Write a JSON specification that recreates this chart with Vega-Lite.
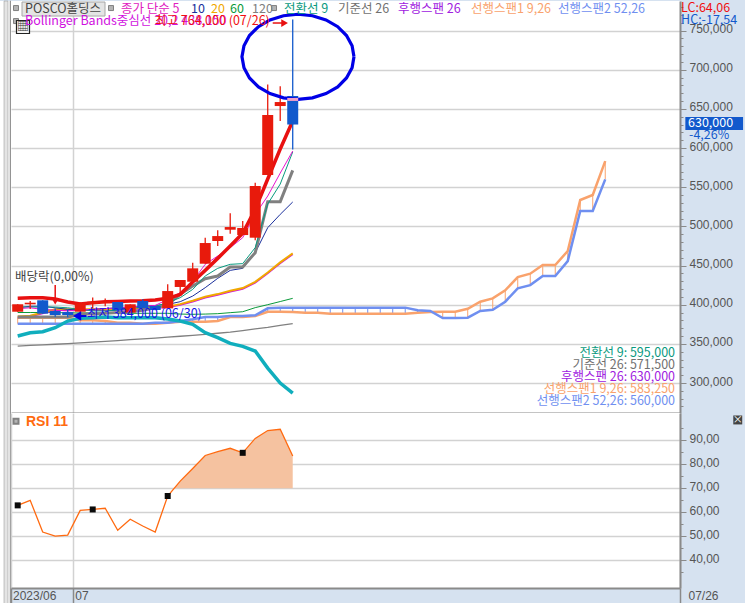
{"$schema":"https://vega.github.io/schema/vega-lite/v6.json","background":"#d6e2f0","padding":0,"spacing":0,"bounds":"flush","config":{"font":"Noto Sans CJK KR","concat":{"spacing":0},"text":{"font":"Noto Sans CJK KR","fontSize":12}},
"datasets":{
"daily":[
{"i":0,"date":"06/26","open":391,"high":400.5,"low":391,"close":400.5,"ma5":394.9,"ma10":396,"ma20":384.8,"ma60":390,"ma120":347.2,"conv":397,"base":384.3,"upper":408.1,"mid":383.6,"lower":360,"rsi":62.9},
{"i":1,"date":"06/27","open":400.5,"high":404.7,"low":394.4,"close":402.5,"ma5":396,"ma10":398,"ma20":386,"ma60":390,"ma120":348,"conv":397,"base":384.3,"upper":408.9,"mid":384.8,"lower":364.2,"rsi":65},
{"i":2,"date":"06/28","open":405.6,"high":405.6,"low":388.5,"close":388.5,"ma5":394,"ma10":398,"ma20":390,"ma60":390,"ma120":348.7,"conv":397,"base":384.3,"upper":408.9,"mid":388.8,"lower":365.5,"rsi":51.8},
{"i":3,"date":"06/29","open":391.9,"high":395,"low":384.5,"close":386.8,"ma5":393,"ma10":396,"ma20":394,"ma60":390,"ma120":349.5,"conv":397,"base":384.3,"upper":407.2,"mid":392.8,"lower":370.6,"rsi":50.1},
{"i":4,"date":"06/30","open":390.6,"high":394,"low":384,"close":386.8,"ma5":392,"ma10":394,"ma20":394,"ma60":389.5,"ma120":350.4,"conv":396,"base":384.3,"upper":403.4,"mid":392.8,"lower":379.1,"rsi":50.5},
{"i":5,"date":"07/03","open":391,"high":403,"low":391,"close":402,"ma5":393,"ma10":393,"ma20":394,"ma60":389.5,"ma120":351.2,"conv":394,"base":388,"upper":400.9,"mid":392.8,"lower":382.6,"rsi":60.8},
{"i":6,"date":"07/04","open":401.2,"high":409,"low":395.3,"close":403.8,"ma5":394,"ma10":394,"ma20":394,"ma60":389.5,"ma120":352.2,"conv":392,"base":388,"upper":402.6,"mid":392.8,"lower":383.4,"rsi":61.2},
{"i":7,"date":"07/05","open":402,"high":408,"low":398,"close":404,"ma5":395,"ma10":395,"ma20":394,"ma60":389,"ma120":353.2,"conv":392,"base":389,"upper":403.8,"mid":392.8,"lower":384.3,"rsi":61.7},
{"i":8,"date":"07/06","open":403.4,"high":403.4,"low":392.8,"close":392.8,"ma5":396,"ma10":396,"ma20":394.5,"ma60":389,"ma120":354.2,"conv":393,"base":390,"upper":404.2,"mid":393.3,"lower":383.4,"rsi":52.5},
{"i":9,"date":"07/07","open":390,"high":400.5,"low":390,"close":400.5,"ma5":397,"ma10":397,"ma20":395,"ma60":389,"ma120":355.3,"conv":395,"base":391,"upper":404.7,"mid":393.8,"lower":383.4,"rsi":57.1},
{"i":10,"date":"07/10","open":404.7,"high":407,"low":395.3,"close":395.3,"ma5":398,"ma10":398,"ma20":396.2,"ma60":389,"ma120":356.3,"conv":397,"base":393,"upper":405.1,"mid":395,"lower":383.4,"rsi":54.3},
{"i":11,"date":"07/11","open":398.3,"high":398.3,"low":393,"close":393.2,"ma5":399,"ma10":399,"ma20":397,"ma60":389,"ma120":357.3,"conv":398,"base":396,"upper":406,"mid":395.8,"lower":383.4,"rsi":51.8},
{"i":12,"date":"07/12","open":395.3,"high":426,"low":395.3,"close":417.4,"ma5":406.8,"ma10":400.4,"ma20":397.5,"ma60":389,"ma120":358.5,"conv":402.6,"base":400.4,"upper":408.1,"mid":396.3,"lower":381.7,"rsi":66.8},
{"i":13,"date":"07/13","open":422.6,"high":431.5,"low":415.3,"close":431.5,"ma5":415.3,"ma10":403.8,"ma20":400.7,"ma60":388,"ma120":359.7,"conv":408.9,"base":413.2,"upper":413.2,"mid":399.5,"lower":379.1,"rsi":73},
{"i":14,"date":"07/14","open":429.3,"high":453.6,"low":429.3,"close":446.4,"ma5":430.2,"ma10":411,"ma20":405,"ma60":387.7,"ma120":360.9,"conv":419.5,"base":423.8,"upper":428.9,"mid":403.8,"lower":374.9,"rsi":78.3},
{"i":15,"date":"07/17","open":452.3,"high":485.5,"low":452.3,"close":478.7,"ma5":451.5,"ma10":421.7,"ma20":410,"ma60":388,"ma120":362,"conv":436.6,"base":433.2,"upper":443.8,"mid":408.8,"lower":364.2,"rsi":83.7},
{"i":16,"date":"07/18","open":481.3,"high":494.9,"low":474.9,"close":487.6,"ma5":462.1,"ma10":433.6,"ma20":413.5,"ma60":388.5,"ma120":363.5,"conv":446.4,"base":436.6,"upper":459.1,"mid":412.3,"lower":357.9,"rsi":85.3},
{"i":17,"date":"07/19","open":495.7,"high":516.6,"low":490.6,"close":499.1,"ma5":472.8,"ma10":443.8,"ma20":417.7,"ma60":389.8,"ma120":365,"conv":451.5,"base":448.1,"upper":474.9,"mid":416.5,"lower":350.6,"rsi":86.7},
{"i":18,"date":"07/20","open":488.9,"high":506.8,"low":488.9,"close":497.9,"ma5":485.5,"ma10":446.4,"ma20":421.2,"ma60":391,"ma120":367,"conv":452.4,"base":448.1,"upper":491.1,"mid":420,"lower":346.8,"rsi":84.8},
{"i":19,"date":"07/21","open":485.5,"high":555.7,"low":482.2,"close":551.5,"ma5":515.3,"ma10":466.4,"ma20":429.2,"ma60":396.2,"ma120":369,"conv":472.8,"base":466.4,"upper":521.7,"mid":428,"lower":340.8,"rsi":90.8},
{"i":20,"date":"07/24","open":565.5,"high":681,"low":565.5,"close":642,"ma5":538.7,"ma10":498.3,"ma20":441,"ma60":400,"ma120":371,"conv":528.5,"base":531.5,"upper":560.4,"mid":439.8,"lower":319,"rsi":94.1},
{"i":21,"date":"07/25","open":653.6,"high":679,"low":634.5,"close":658.7,"ma5":568,"ma10":515.3,"ma20":454,"ma60":404,"ma120":373.5,"conv":554,"base":531.5,"upper":598.7,"mid":452.8,"lower":300,"rsi":94.6},
{"i":22,"date":"07/26","open":666.4,"high":764,"low":598,"close":630,"ma5":596.2,"ma10":531.1,"ma20":465.5,"ma60":408.1,"ma120":375.7,"conv":595,"base":571.5,"upper":634.5,"mid":464.3,"lower":287.2,"rsi":83.5}
],
"cloud":[
{"i":0,"span1":383.4,"span2":375.7},{"i":1,"span1":383.4,"span2":375.7},{"i":2,"span1":383.4,"span2":375.7},{"i":3,"span1":383.4,"span2":375.7},{"i":4,"span1":383.4,"span2":375.7},{"i":5,"span1":380,"span2":375.7},{"i":6,"span1":380,"span2":375.7},{"i":7,"span1":379.1,"span2":375.7},{"i":8,"span1":377,"span2":375.7},{"i":9,"span1":377,"span2":375.7},{"i":10,"span1":375.7,"span2":375.7},{"i":11,"span1":375.7,"span2":377},{"i":12,"span1":377,"span2":377},{"i":13,"span1":378.3,"span2":379.1},{"i":14,"span1":378.3,"span2":381.3},{"i":15,"span1":378.3,"span2":384.3},{"i":16,"span1":379.1,"span2":384.3},{"i":17,"span1":384.3,"span2":385.5},{"i":18,"span1":384.3,"span2":385.5},{"i":19,"span1":385.5,"span2":386.4},{"i":20,"span1":391,"span2":395.3},{"i":21,"span1":391,"span2":396.2},{"i":22,"span1":390.6,"span2":396.2},{"i":23,"span1":389.8,"span2":396.2},{"i":24,"span1":389.8,"span2":396.2},{"i":25,"span1":388.5,"span2":396.2},{"i":26,"span1":388.5,"span2":396.2},{"i":27,"span1":388.5,"span2":396.2},{"i":28,"span1":388.5,"span2":396.2},{"i":29,"span1":388.5,"span2":396.2},{"i":30,"span1":388.5,"span2":396.2},{"i":31,"span1":388.5,"span2":396.2},{"i":32,"span1":389.8,"span2":392.8},{"i":33,"span1":390.6,"span2":391.9},{"i":34,"span1":391,"span2":383},{"i":35,"span1":391,"span2":383},{"i":36,"span1":394.8,"span2":383.4},{"i":37,"span1":403.8,"span2":391.9},{"i":38,"span1":408,"span2":393.4},{"i":39,"span1":418.3,"span2":403.8},{"i":40,"span1":435.3,"span2":420.9},{"i":41,"span1":439.6,"span2":425},{"i":42,"span1":450.6,"span2":436.6},{"i":43,"span1":450.6,"span2":436.6},{"i":44,"span1":468.5,"span2":455.7},{"i":45,"span1":533.6,"span2":519.6},{"i":46,"span1":540,"span2":519.6},{"i":47,"span1":583.25,"span2":560}
],
"ring":[
{"k":0,"i":26.9,"price":716.5},{"k":1,"i":26.75,"price":730.5},{"k":2,"i":26.3,"price":743.6},{"k":3,"i":25.6,"price":754.9},{"k":4,"i":24.66,"price":763.5},{"k":5,"i":23.58,"price":768.9},{"k":6,"i":22.42,"price":770.8},{"k":7,"i":21.26,"price":768.9},{"k":8,"i":20.18,"price":763.5},{"k":9,"i":19.26,"price":754.9},{"k":10,"i":18.54,"price":743.6},{"k":11,"i":18.1,"price":730.5},{"k":12,"i":17.94,"price":716.5},{"k":13,"i":18.1,"price":702.5},{"k":14,"i":18.54,"price":689.4},{"k":15,"i":19.26,"price":678.1},{"k":16,"i":20.18,"price":669.5},{"k":17,"i":21.26,"price":664.1},{"k":18,"i":22.42,"price":662.2},{"k":19,"i":23.58,"price":664.1},{"k":20,"i":24.66,"price":669.5},{"k":21,"i":25.6,"price":678.1},{"k":22,"i":26.3,"price":689.4},{"k":23,"i":26.75,"price":702.5},{"k":24,"i":26.9,"price":716.5}
],
"textLeft":[
{"i":0.584,"price":785.35,"label":"POSCO홀딩스","series":"name"},
{"i":8.264,"price":785.35,"label":"종가 단순 5","series":"ma5"},
{"i":13.864,"price":785.35,"label":"10","series":"ma10"},
{"i":15.464,"price":785.35,"label":"20","series":"ma20"},
{"i":16.984,"price":785.35,"label":"60","series":"ma60"},
{"i":18.744,"price":785.35,"label":"120","series":"ma120"},
{"i":21.304,"price":785.35,"label":"전환선 9","series":"conv"},
{"i":25.624,"price":785.35,"label":"기준선 26","series":"base"},
{"i":30.424,"price":785.35,"label":"후행스팬 26","series":"lag"},
{"i":36.264,"price":785.35,"label":"선행스팬1 9,26","series":"span1"},
{"i":43.224,"price":785.35,"label":"선행스팬2 52,26","series":"span2"},
{"i":0.584,"price":769.95,"label":"Bollinger Bands중심선 20,2 438,150","series":"mid"},
{"i":10.984,"price":769.95,"label":"최고 764,000 (07/26)","series":"high"},
{"i":-0.216,"price":443.15,"label":"배당락(0,00%)","series":"name"},
{"i":5.544,"price":395.95,"label":"최저 384,000 (06/30)","series":"lowmark"},
{"i":53.064,"price":786.55,"label":"LC:64,06","series":"high"},
{"i":53.064,"price":771.25,"label":"HC:-17,54","series":"low"},
{"i":53.624,"price":639.15,"label":"630,000","series":"white"},
{"i":53.704,"price":623.85,"label":"-4,26%","series":"low"}
],
"textRight":[
{"i":52.584,"price":338.7,"label":"전환선 9: 595,000","series":"conv"},
{"i":52.584,"price":323,"label":"기준선 26: 571,500","series":"base"},
{"i":52.584,"price":307.6,"label":"후행스팬 26: 630,000","series":"lag"},
{"i":52.584,"price":292,"label":"선행스팬1 9,26: 583,250","series":"span1"},
{"i":52.584,"price":276.6,"label":"선행스팬2 52,26: 560,000","series":"span2"}
],
"icons":[{"i":-0.136,"price":778.7},{"i":7.464,"price":778.7},{"i":20.504,"price":778.7},{"i":-0.136,"price":762.1}],
"refs":[{"rsi":70},{"rsi":30}],
"zone":[{"i":12.55,"rsi":70},{"i":13,"rsi":73},{"i":14,"rsi":78.3},{"i":15,"rsi":83.7},{"i":16,"rsi":85.3},{"i":17,"rsi":86.7},{"i":18,"rsi":84.8},{"i":19,"rsi":90.8},{"i":20,"rsi":94.1},{"i":21,"rsi":94.6},{"i":22,"rsi":83.5}],
"signals":[{"i":0,"rsi":62.9},{"i":6,"rsi":61.2},{"i":12,"rsi":66.8},{"i":18,"rsi":84.8}]
},
"hconcat":[
{"width":11,"height":603,"view":{"fill":"white","stroke":null},
 "data":{"values":[{"a":4,"b":8,"part":"strip"},{"a":10,"b":11,"part":"edge"}]},
 "mark":{"type":"rect","stroke":"#8f8f8f","strokeWidth":0.5},
 "encoding":{"x":{"field":"a","type":"quantitative","scale":{"domain":[0,11],"nice":false},"axis":null},"x2":{"field":"b"},
  "color":{"condition":{"test":"datum.part==='strip'","value":"#e4e4e4"},"value":"#9a9a9a"}}},
{"vconcat":[
{"width":669,"height":412,"view":{"fill":"white","stroke":null},
 "encoding":{"x":{"field":"i","type":"quantitative","scale":{"domain":[-0.536,52.98],"nice":false,"zero":false,"padding":0},
   "axis":{"values":[4.45],"labels":false,"ticks":false,"domain":true,"domainColor":"#8a8a8a","domainWidth":2,"grid":true,"gridColor":"#d2d2d2","gridWidth":1.5,"title":null}}},
 "resolve":{"axis":{"y":"independent"}},
 "layer":[
 {"data":{"name":"cloud"},"mark":{"type":"rule","strokeWidth":1},
  "encoding":{"y":{"field":"span1","type":"quantitative","scale":{"domain":[261.7,787.7],"nice":false,"zero":false},
    "axis":{"orient":"right","values":[300,350,400,450,500,550,600,650,700,750],"grid":true,"gridColor":"#d2d2d2","gridWidth":1.5,"tickColor":"#8a8a8a","tickSize":6,"domainColor":"#8a8a8a","domainWidth":2,"labelColor":"#555555","labelFont":"Liberation Sans","labelFontSize":12,"labelPadding":3,"labelOffset":-2,"labelExpr":"format(datum.value*1000,',d')","title":null}},
   "y2":{"field":"span2"},"color":{"condition":{"test":"datum.span1>=datum.span2","value":"#f9a26c"},"value":"#6f8ff0"}}},
 {"data":{"name":"cloud"},"mark":{"type":"line","stroke":"#f9a26c","strokeWidth":2.5,"interpolate":"linear"},
  "encoding":{"y":{"field":"span1","type":"quantitative","scale":{"domain":[261.7,787.7],"nice":false,"zero":false},
    "axis":{"orient":"right","values":[270,280,290,310,320,330,340,360,370,380,390,410,420,430,440,460,470,480,490,510,520,530,540,560,570,580,590,610,620,630,640,660,670,680,690,710,720,730,740,760,770,780],"grid":false,"labels":false,"tickColor":"#8a8a8a","tickSize":3,"domain":false,"title":null}}}},
 {"data":{"name":"cloud"},"mark":{"type":"line","stroke":"#6f8ff0","strokeWidth":2.5},
  "encoding":{"y":{"field":"span2","type":"quantitative","scale":{"domain":[261.7,787.7],"nice":false,"zero":false},"axis":null}}},
 {"data":{"name":"daily"},"mark":{"type":"line","stroke":"#808080","strokeWidth":1.3},"encoding":{"y":{"field":"ma120","type":"quantitative","scale":{"domain":[261.7,787.7],"nice":false,"zero":false},"axis":null}}},
 {"data":{"name":"daily"},"mark":{"type":"line","stroke":"#0a9a3a","strokeWidth":1},"encoding":{"y":{"field":"ma60","type":"quantitative","scale":{"domain":[261.7,787.7],"nice":false,"zero":false},"axis":null}}},
 {"data":{"name":"daily"},"mark":{"type":"line","stroke":"#10aebd","strokeWidth":3.5},"encoding":{"y":{"field":"lower","type":"quantitative","scale":{"domain":[261.7,787.7],"nice":false,"zero":false},"axis":null}}},
 {"data":{"name":"daily"},"mark":{"type":"line","stroke":"#d010e0","strokeWidth":1.5},"encoding":{"y":{"field":"mid","type":"quantitative","scale":{"domain":[261.7,787.7],"nice":false,"zero":false},"axis":null}}},
 {"data":{"name":"daily"},"mark":{"type":"line","stroke":"#f0a800","strokeWidth":2},"encoding":{"y":{"field":"ma20","type":"quantitative","scale":{"domain":[261.7,787.7],"nice":false,"zero":false},"axis":null}}},
 {"data":{"name":"daily"},"mark":{"type":"line","stroke":"#1a2f9c","strokeWidth":1},"encoding":{"y":{"field":"ma10","type":"quantitative","scale":{"domain":[261.7,787.7],"nice":false,"zero":false},"axis":null}}},
 {"data":{"name":"daily"},"mark":{"type":"line","stroke":"#808080","strokeWidth":3},"encoding":{"y":{"field":"base","type":"quantitative","scale":{"domain":[261.7,787.7],"nice":false,"zero":false},"axis":null}}},
 {"data":{"name":"daily"},"mark":{"type":"line","stroke":"#0a9a80","strokeWidth":1},"encoding":{"y":{"field":"conv","type":"quantitative","scale":{"domain":[261.7,787.7],"nice":false,"zero":false},"axis":null}}},
 {"data":{"name":"daily"},"mark":{"type":"line","stroke":"#e815d0","strokeWidth":1},"encoding":{"y":{"field":"ma5","type":"quantitative","scale":{"domain":[261.7,787.7],"nice":false,"zero":false},"axis":null}}},
 {"data":{"name":"daily"},"mark":{"type":"line","stroke":"#e81010","strokeWidth":3.5},"encoding":{"y":{"field":"upper","type":"quantitative","scale":{"domain":[261.7,787.7],"nice":false,"zero":false},"axis":null}}},
 {"data":{"name":"daily"},"mark":{"type":"rule","strokeWidth":1.3},"encoding":{"y":{"field":"high","type":"quantitative","scale":{"domain":[261.7,787.7],"nice":false,"zero":false},"axis":null},"y2":{"field":"low"},"color":{"condition":{"test":"datum.close>=datum.open","value":"#e81a0c"},"value":"#1259cc"}}},
 {"data":{"name":"daily"},"mark":{"type":"bar","size":11},"encoding":{"y":{"field":"open","type":"quantitative","scale":{"domain":[261.7,787.7],"nice":false,"zero":false},"axis":null},"y2":{"field":"close"},"color":{"condition":{"test":"datum.close>=datum.open","value":"#e81a0c"},"value":"#1259cc"}}},
 {"data":{"values":[{"i":3,"from":425,"to":405}]},"mark":{"type":"rule","stroke":"#e81010","strokeWidth":1.5},"encoding":{"y":{"field":"from","type":"quantitative","scale":{"domain":[261.7,787.7],"nice":false,"zero":false},"axis":null},"y2":{"field":"to"}}},
 {"data":{"values":[{"i":3,"price":404}]},"mark":{"type":"point","shape":"triangle-down","filled":true,"size":50,"color":"#e81010","opacity":1},"encoding":{"y":{"field":"price","type":"quantitative","scale":{"domain":[261.7,787.7],"nice":false,"zero":false},"axis":null}}},
 {"data":{"values":[{"i":4.75,"i2":5.5,"price":385.5}]},"mark":{"type":"rule","stroke":"#0000e6","strokeWidth":2},"encoding":{"x2":{"field":"i2"},"y":{"field":"price","type":"quantitative","scale":{"domain":[261.7,787.7],"nice":false,"zero":false},"axis":null}}},
 {"data":{"values":[{"i":4.75,"price":385.5}]},"mark":{"type":"point","shape":"triangle-left","filled":true,"size":90,"color":"#0000e6","opacity":1},"encoding":{"y":{"field":"price","type":"quantitative","scale":{"domain":[261.7,787.7],"nice":false,"zero":false},"axis":null}}},
 {"data":{"values":[{"i":20.4,"i2":21.4,"price":759.6}]},"mark":{"type":"rule","stroke":"#e81010","strokeWidth":1.5},"encoding":{"x2":{"field":"i2"},"y":{"field":"price","type":"quantitative","scale":{"domain":[261.7,787.7],"nice":false,"zero":false},"axis":null}}},
 {"data":{"values":[{"i":21.35,"price":759.6}]},"mark":{"type":"point","shape":"triangle-right","filled":true,"size":60,"color":"#e81010","opacity":1},"encoding":{"y":{"field":"price","type":"quantitative","scale":{"domain":[261.7,787.7],"nice":false,"zero":false},"axis":null}}},
 {"data":{"name":"ring"},"mark":{"type":"line","stroke":"#0000e6","strokeWidth":3.2,"interpolate":"linear"},"encoding":{"order":{"field":"k"},"y":{"field":"price","type":"quantitative","scale":{"domain":[261.7,787.7],"nice":false,"zero":false},"axis":null}}},
 {"data":{"values":[{"i":21.56,"i2":22.44,"price":662}]},"mark":{"type":"rule","stroke":"#f0a0c8","strokeWidth":3},"encoding":{"x2":{"field":"i2"},"y":{"field":"price","type":"quantitative","scale":{"domain":[261.7,787.7],"nice":false,"zero":false},"axis":null}}},
 {"data":{"values":[{"i":0.344,"i2":6.984,"top":786.4,"bottom":768.5}]},"mark":{"type":"rect","fill":"#e4e4e4","stroke":"#a8a8a8","strokeWidth":1},"encoding":{"x2":{"field":"i2"},"y":{"field":"top","type":"quantitative","scale":{"domain":[261.7,787.7],"nice":false,"zero":false},"axis":null},"y2":{"field":"bottom"}}},
 {"data":{"values":[{"i":53.408,"i2":58.024,"top":639.6,"bottom":623}]},"mark":{"type":"rect","fill":"#1259cc"},"encoding":{"x2":{"field":"i2"},"y":{"field":"top","type":"quantitative","scale":{"domain":[261.7,787.7],"nice":false,"zero":false},"axis":null},"y2":{"field":"bottom"}}},
 {"data":{"values":[{"i":52.98,"i2":58.18,"top":787.7,"bottom":261.7}]},"mark":{"type":"rect","opacity":0},"encoding":{"x2":{"field":"i2"},"y":{"field":"top","type":"quantitative","scale":{"domain":[261.7,787.7],"nice":false,"zero":false},"axis":null},"y2":{"field":"bottom"}}},
 {"data":{"name":"icons"},"mark":{"type":"square","fill":"#b4b4b4","stroke":"#808080","strokeWidth":1,"size":25,"opacity":1},"encoding":{"y":{"field":"price","type":"quantitative","scale":{"domain":[261.7,787.7],"nice":false,"zero":false},"axis":null}}},
 {"data":{"values":[{"i":0.424,"price":754.5}]},"mark":{"type":"square","fill":"#f4f4f4","stroke":"#222222","strokeWidth":1.2,"size":169,"opacity":1},"encoding":{"y":{"field":"price","type":"quantitative","scale":{"domain":[261.7,787.7],"nice":false,"zero":false},"axis":null}}},
 {"data":{"values":[{"i":0.424,"price":754.5,"label":"▦"}]},"mark":{"type":"text","fontSize":12,"color":"#333333"},"encoding":{"text":{"field":"label"},"y":{"field":"price","type":"quantitative","scale":{"domain":[261.7,787.7],"nice":false,"zero":false},"axis":null}}},
 {"data":{"name":"textLeft"},"mark":{"type":"text","align":"left","baseline":"top","fontSize":12.5},"encoding":{"text":{"field":"label"},"y":{"field":"price","type":"quantitative","scale":{"domain":[261.7,787.7],"nice":false,"zero":false},"axis":null},
   "color":{"field":"series","type":"nominal","legend":null,"scale":{"domain":["name","ma5","ma10","ma20","ma60","ma120","conv","base","lag","span1","span2","mid","high","low","white","lowmark"],"range":["#444444","#e020c0","#1a2f9c","#f0a800","#0a9a3a","#808080","#0a9a80","#707070","#a020e0","#f9a26c","#6f8ff0","#d010e0","#f01010","#1259cc","#ffffff","#1515e8"]}}}},
 {"data":{"name":"textRight"},"mark":{"type":"text","align":"right","baseline":"middle","fontSize":12.5},"encoding":{"text":{"field":"label"},"y":{"field":"price","type":"quantitative","scale":{"domain":[261.7,787.7],"nice":false,"zero":false},"axis":null},
   "color":{"field":"series","type":"nominal","legend":null,"scale":{"domain":["name","ma5","ma10","ma20","ma60","ma120","conv","base","lag","span1","span2","mid","high","low","white","lowmark"],"range":["#444444","#e020c0","#1a2f9c","#f0a800","#0a9a3a","#808080","#0a9a80","#707070","#a020e0","#f9a26c","#6f8ff0","#d010e0","#f01010","#1259cc","#ffffff","#1515e8"]}}}}
 ]},
{"width":669,"height":175,"view":{"fill":"white","stroke":null},
 "encoding":{"x":{"field":"i","type":"quantitative","scale":{"domain":[-0.536,52.98],"nice":false,"zero":false,"padding":0},
   "axis":{"values":[-0.536,4.45,52.98],"grid":true,"gridColor":"#d2d2d2","gridWidth":1.5,"domain":true,"domainColor":"#8a8a8a","domainWidth":2,"tickColor":"#8a8a8a","tickSize":16,"tickWidth":1.5,"labelAlign":"left","labelBaseline":"middle","labelPadding":-9,"labelColor":"#555555","labelFont":"Liberation Sans","labelFontSize":12,"labelFlush":false,"labelBound":false,"labelOverlap":false,"labelOffset":{"expr":"datum.value>50?8:1.5"},"labelExpr":"datum.value<0?'2023/06':datum.value<10?'07':'07/26'","title":null}}},
 "resolve":{"axis":{"y":"independent"}},
 "layer":[
 {"data":{"name":"zone"},"mark":{"type":"area","color":"#f5c2a0","opacity":1},"encoding":{"y":{"field":"rsi","type":"quantitative","scale":{"domain":[28.46,101.4],"nice":false,"zero":false},
   "axis":{"orient":"right","values":[40,50,60,70,80,90],"grid":true,"gridColor":"#d2d2d2","gridWidth":1.5,"tickColor":"#8a8a8a","tickSize":6,"domainColor":"#8a8a8a","domainWidth":2,"labelColor":"#555555","labelFont":"Liberation Sans","labelFontSize":12,"labelPadding":3,"labelOffset":-2,"labelExpr":"replace(format(datum.value,'.2f'),'.',',')","title":null}},"y2":{"datum":70}}},
 {"data":{"name":"refs"},"mark":{"type":"rule","stroke":"#808080","strokeWidth":1.5},"encoding":{"x":{"datum":-0.536,"type":"quantitative","scale":{"domain":[-0.536,52.98],"nice":false,"zero":false}},"x2":{"datum":52.98},
   "y":{"field":"rsi","type":"quantitative","scale":{"domain":[28.46,101.4],"nice":false,"zero":false},
   "axis":{"orient":"right","values":[35,45,55,65,75,85,95],"grid":false,"labels":false,"tickColor":"#8a8a8a","tickSize":3,"domain":false,"title":null}}}},
 {"data":{"name":"daily"},"mark":{"type":"line","stroke":"#ff6a10","strokeWidth":1.3},"encoding":{"y":{"field":"rsi","type":"quantitative","scale":{"domain":[28.46,101.4],"nice":false,"zero":false},"axis":null}}},
 {"data":{"name":"signals"},"mark":{"type":"square","fill":"#0a0a0a","size":36,"opacity":1},"encoding":{"y":{"field":"rsi","type":"quantitative","scale":{"domain":[28.46,101.4],"nice":false,"zero":false},"axis":null}}},
 {"data":{"values":[{"i":-0.136,"rsi":98}]},"mark":{"type":"square","fill":"#b4b4b4","stroke":"#808080","size":25,"opacity":1},"encoding":{"y":{"field":"rsi","type":"quantitative","scale":{"domain":[28.46,101.4],"nice":false,"zero":false},"axis":null}}},
 {"data":{"values":[{"i":0.664,"rsi":97.7,"label":"RSI 11"}]},"mark":{"type":"text","align":"left","baseline":"middle","fontSize":14,"fontWeight":"bold","color":"#ff6a10","font":"Liberation Sans"},"encoding":{"text":{"field":"label"},"y":{"field":"rsi","type":"quantitative","scale":{"domain":[28.46,101.4],"nice":false,"zero":false},"axis":null}}},
 {"data":{"values":[{"i":57.6,"rsi":98.5}]},"mark":{"type":"square","fill":"#444444","size":80,"opacity":1},"encoding":{"y":{"field":"rsi","type":"quantitative","scale":{"domain":[28.46,101.4],"nice":false,"zero":false},"axis":null}}},
 {"data":{"values":[{"i":57.6,"rsi":98.5,"label":"×"}]},"mark":{"type":"text","fontSize":10,"color":"#ffffff"},"encoding":{"text":{"field":"label"},"y":{"field":"rsi","type":"quantitative","scale":{"domain":[28.46,101.4],"nice":false,"zero":false},"axis":null}}}
 ],"bounds":"flush"}
],"spacing":0,"bounds":"flush"}
]}
